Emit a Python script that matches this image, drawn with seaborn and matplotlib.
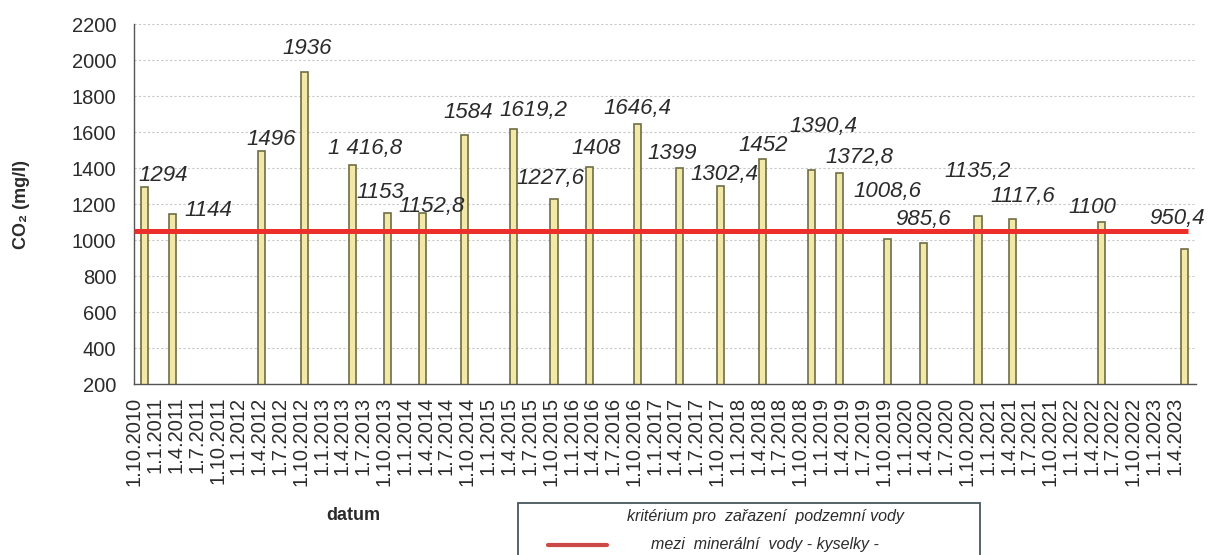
import matplotlib.pyplot as plt
import seaborn as sns
import pandas as pd
import numpy as np
from matplotlib.patches import Rectangle
from matplotlib.lines import Line2D

# --- DATA ---
sampling_dates = ['16.11.2010', '17.3.2011', '13.4.2012', '16.10.2012', '16.5.2013',
                  '15.10.2013', '19.3.2014', '17.9.2014', '20.4.2015', '16.10.2015',
                  '18.3.2016', '16.10.2016', '18.4.2017', '17.10.2017', '19.4.2018',
                  '20.11.2018', '21.3.2019', '17.10.2019', '22.3.2020', '18.11.2020',
                  '18.4.2021', '15.5.2022', '14.5.2023']
co2_values = [1294, 1144, 1496, 1936, 1416.8, 1153, 1152.8, 1584, 1619.2, 1227.6,
              1408, 1646.4, 1399, 1302.4, 1452, 1390.4, 1372.8, 1008.6, 985.6, 1135.2,
              1117.6, 1100, 950.4]
value_labels = ['1294', '1144', '1496', '1936', '1 416,8', '1153', '1152,8', '1584',
                '1619,2', '1227,6', '1408', '1646,4', '1399', '1302,4', '1452', '1390,4',
                '1372,8', '1008,6', '985,6', '1135,2', '1117,6', '1100', '950,4']
criterion = 1050
axis_start = '1.10.2010'
axis_end = '1.7.2023'
legend_lines = ['kritérium pro  zařazení  podzemní vody',
                'mezi  minerální  vody - kyselky -']

# label offsets (pixels) as placed by hand in the original chart
label_offsets = [(18, 12), (36, 4), (9, 11), (3, 23), (12, 17), (-7, 20), (9, 6), (4, 22),
                 (20, 18), (-4, 21), (7, 18), (0, 15), (-7, 15), (4, 11), (0, 13), (12, 43),
                 (20, 16), (0, 47), (0, 23), (0, 44), (10, 22), (-9, 15), (-8, 31)]

# --- STYLE ---
sns.set_theme(style="white")
plt.rcParams['font.family'] = ['Liberation Sans', 'DejaVu Sans']
text_col = '#2b2b2b'
axis_col = '#555555'

W, H = 1210, 555
fig = plt.figure(figsize=(W / 100, H / 100), dpi=100)
ax = fig.add_axes([134.3 / W, 1 - 384.3 / H, 1061.4 / W, 360.3 / H])

start = pd.to_datetime(axis_start, dayfirst=True)
end = pd.to_datetime(axis_end, dayfirst=True)
dates = pd.to_datetime(sampling_dates, dayfirst=True)
days = (dates - start).days.astype(float)
df = pd.DataFrame({'day': days, 'co2': co2_values})

bar_days = 31
min_gap = np.diff(np.sort(df['day'].values)).min()
sns.barplot(data=df, x='day', y='co2', native_scale=True, orient='x',
            width=bar_days / min_gap, color='#f2e8a8', edgecolor='#6e6e45',
            linewidth=1.2, saturation=1, errorbar=None, ax=ax, zorder=2)

# criterion line
ax.hlines(criterion, 0, df['day'].max() + bar_days / 2, color='#ec2f2b', lw=3.6, zorder=3)

# value labels
for d, v, lab, off in zip(df['day'], df['co2'], value_labels, label_offsets):
    ax.annotate(lab, (d, v), xytext=off, textcoords='offset pixels', ha='center',
                va='center', fontsize=16, style='italic', color=text_col, zorder=4)

# axes
quarters = pd.date_range(start, end, freq='QS-OCT')
qdays = (quarters - start).days.astype(float)
ax.set_xlim(0, (end - start).days)
ax.set_xticks(qdays)
ax.set_xticklabels([f"{q.day}.{q.month}.{q.year}" for q in quarters[:-1]] + [''],
                   rotation=90)
ax.set_ylim(200, 2200)
ax.set_yticks(np.arange(200, 2201, 200))

ax.yaxis.grid(True, color='#c8c8c8', linestyle=(0, (2, 2)), lw=0.8)
ax.xaxis.grid(False)
ax.set_axisbelow(True)
for s in ['top', 'right']:
    ax.spines[s].set_visible(False)
for s in ['left', 'bottom']:
    ax.spines[s].set_color(axis_col)
    ax.spines[s].set_linewidth(1)

ax.tick_params(axis='both', direction='out', length=5, width=1, color=axis_col,
               labelsize=14.5, labelcolor=text_col)
ax.tick_params(axis='y', pad=8)
ax.tick_params(axis='x', pad=4)

ax.set_ylabel('CO₂ (mg/l)', fontsize=13, fontweight='bold', color=text_col)
ax.yaxis.set_label_coords((22 - 134.3) / 1061.4, 0.5)
ax.yaxis.label.set_va('center')
ax.set_xlabel('datum', fontsize=13, fontweight='bold', color=text_col)
ax.xaxis.set_label_coords((353 - 134.3) / 1061.4, (384.3 - 516) / 360.3)
ax.xaxis.label.set_va('center')

# legend box (cut off at the bottom in the original)
top = 1 - 502.7 / H
fig.add_artist(Rectangle((518 / W, -0.1), (980 - 518) / W, top + 0.1,
                         transform=fig.transFigure, facecolor='white',
                         edgecolor='#46585a', lw=1.3))
fig.add_artist(Line2D([548 / W, 607 / W], [1 - 545 / H] * 2, transform=fig.transFigure,
                      color='#cc4a45', lw=3))
for i, line in enumerate(legend_lines):
    fig.text(765 / W, 1 - (517 + 28 * i) / H, line, ha='center', va='center',
             fontsize=11.5, style='italic', color=text_col)

fig.savefig('out.png', dpi=100)
